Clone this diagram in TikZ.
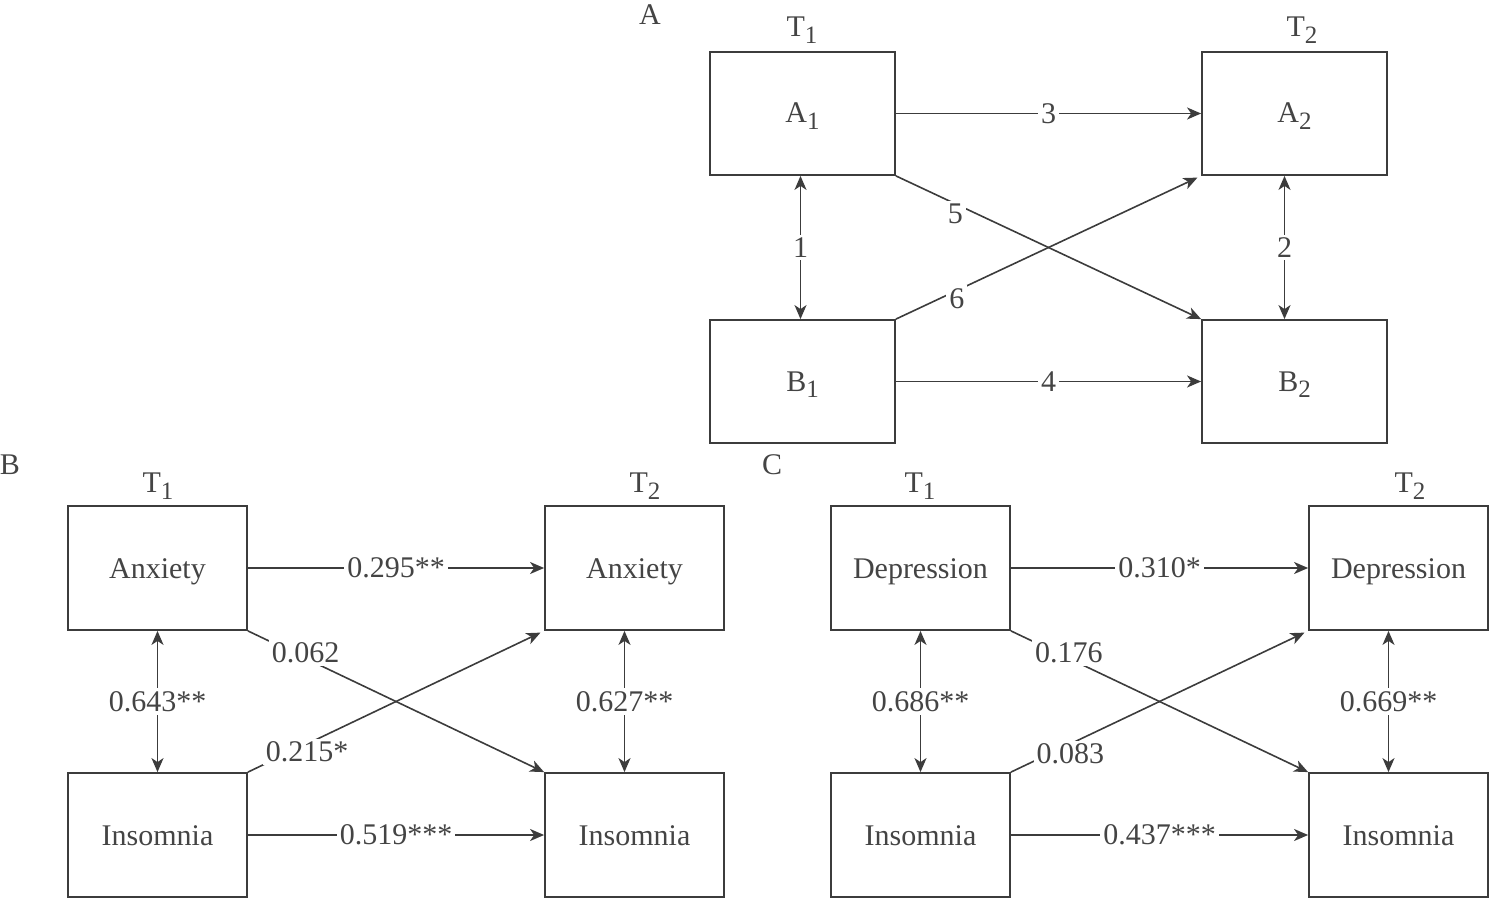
\documentclass[tikz,border=0pt]{standalone}
\usepackage{fontspec}
\setmainfont{Liberation Serif}
\usetikzlibrary{arrows.meta}
\definecolor{ln}{RGB}{60,60,60}
\definecolor{tx}{RGB}{68,68,68}
\newcommand{\sbs}[1]{\raisebox{-0.5ex}{\fontsize{12.5}{12}\selectfont #1}}
\begin{document}
\begin{tikzpicture}[x=0.5pt,y=-0.5pt,
  every node/.style={font=\fontsize{15}{18}\selectfont, text=tx},
  boxA/.style={draw=ln, line width=0.9pt, minimum width=92.5pt, minimum height=61.5pt, inner sep=0pt, text height=12.5pt, text depth=3pt},
  boxB/.style={draw=ln, line width=0.9pt, minimum width=89.5pt, minimum height=62pt, inner sep=0pt, text height=13pt, text depth=3pt},
  tip/.tip={Stealth[length=7pt,width=6pt,inset=2pt]},
  arr/.style={draw=ln, line width=0.8pt, -tip},
  darr/.style={draw=ln, line width=0.8pt, tip-tip},
  lbl/.style={fill=white, inner sep=1.5pt},
]
\useasboundingbox (0,0) rectangle (1489,899);

% ---------- Panel A ----------
\node (pA) at (650,15) {A};
\node[boxA] (A1) at (802.5,113.5) {A\sbs{1}};
\node[boxA] (A2) at (1294.5,113.5) {A\sbs{2}};
\node[boxA] (B1) at (802.5,381.5) {B\sbs{1}};
\node[boxA] (B2) at (1294.5,381.5) {B\sbs{2}};
\node (tA1) at (802,30) {T\sbs{1}};
\node (tA2) at (1302,30) {T\sbs{2}};

\draw[arr] (A1) -- node[lbl]{3} (A2);
\draw[arr] (B1) -- node[lbl]{4} (B2);
\draw[darr] ([xshift=-1pt]A1.south) -- node[lbl]{1} ([xshift=-1pt]B1.north);
\draw[darr] ([xshift=-5pt]A2.south) -- node[lbl]{2} ([xshift=-5pt]B2.north);
\draw[arr] (A1.south east) -- node[lbl, pos=0.195, yshift=-5pt]{5} (B2.north west);
\draw[arr, shorten >=2pt] (B1.north east) -- node[lbl, pos=0.2, yshift=-4pt]{6} (A2.south west);

% ---------- Panel B ----------
\node (pB) at (10,465) {B};
\node[boxB] (BX1) at (157.5,568) {Anxiety};
\node[boxB] (BX2) at (634.5,568) {Anxiety};
\node[boxB] (BI1) at (157.5,835) {Insomnia};
\node[boxB] (BI2) at (634.5,835) {Insomnia};
\node (tB1) at (158,486) {T\sbs{1}};
\node (tB2) at (645,486) {T\sbs{2}};

\draw[arr] (BX1) -- node[lbl]{0.295**} (BX2);
\draw[arr] (BI1) -- node[lbl]{0.519***} (BI2);
\draw[darr] (BX1.south) -- node[lbl]{0.643**} (BI1.north);
\draw[darr] ([xshift=-5pt]BX2.south) -- node[lbl]{0.627**} ([xshift=-5pt]BI2.north);
\draw[arr] (BX1.south east) -- node[lbl, pos=0.195, yshift=3pt]{0.062} (BI2.north west);
\draw[arr, shorten >=2pt] (BI1.north east) -- node[lbl, pos=0.2, yshift=-4pt]{0.215*} (BX2.south west);

% ---------- Panel C ----------
\node (pC) at (772,465) {C};
\node[boxB] (CD1) at (920.5,568) {Depression};
\node[boxB] (CD2) at (1398.5,568) {Depression};
\node[boxB] (CI1) at (920.5,835) {Insomnia};
\node[boxB] (CI2) at (1398.5,835) {Insomnia};
\node (tC1) at (920,486) {T\sbs{1}};
\node (tC2) at (1410,486) {T\sbs{2}};

\draw[arr] (CD1) -- node[lbl]{0.310*} (CD2);
\draw[arr] (CI1) -- node[lbl]{0.437***} (CI2);
\draw[darr] (CD1.south) -- node[lbl]{0.686**} (CI1.north);
\draw[darr] ([xshift=-5pt]CD2.south) -- node[lbl]{0.669**} ([xshift=-5pt]CI2.north);
\draw[arr] (CD1.south east) -- node[lbl, pos=0.195, yshift=3pt]{0.176} (CI2.north west);
\draw[arr, shorten >=2pt] (CI1.north east) -- node[lbl, pos=0.2, yshift=-5pt]{0.083} (CD2.south west);
\end{tikzpicture}
\end{document}
